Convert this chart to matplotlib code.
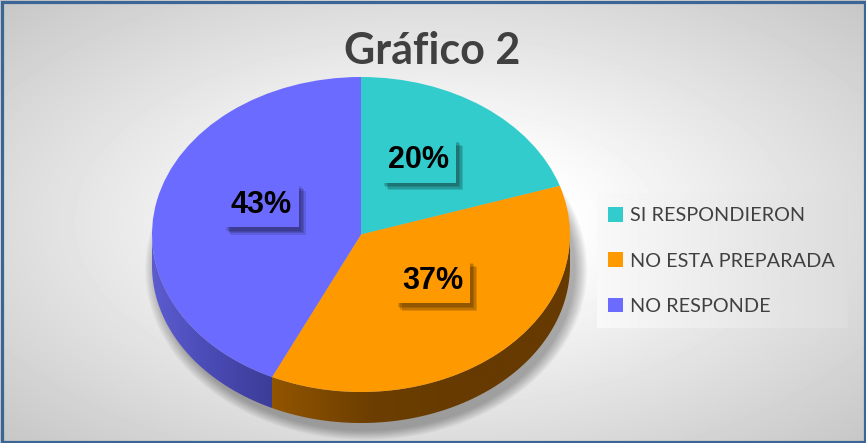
import numpy as np
import matplotlib
matplotlib.use('Agg')
import matplotlib.pyplot as plt
from matplotlib.patches import Rectangle, Ellipse, Polygon
from matplotlib.colors import LinearSegmentedColormap
import matplotlib.patheffects as pe

# ---------------- data ----------------
categories = ['SI RESPONDIERON', 'NO ESTA PREPARADA', 'NO RESPONDE']
values = [20, 37, 43]
title = 'Gráfico 2'

# ---------------- style ----------------
colors = ['#33CCCC', '#FF9900', '#6B6BFF']
side_stops = [['#1f8a8a', '#157070'],
              ['#925500', '#6c3e00', '#663a00', '#663a00'],
              ['#5c5cd0', '#4a4ab4', '#3c3c98']]
label_pos = [(0.275, 0.470), (0.342, -0.298), (-0.478, 0.187)]  # label centres (pie units)

W, H = 866, 443
fig = plt.figure(figsize=(W / 100, H / 100), dpi=100)

# background axes in pixel coordinates
bg = fig.add_axes([0, 0, 1, 1])
bg.axis('off')
yy, xx = np.mgrid[0:H, 0:W]
r = np.sqrt(((xx - 433) / 433) ** 2 + ((yy - 221) / 221) ** 2)
v = 1 - 0.22 * np.clip((r - 0.3) / 1.1, 0, 1)
bg.imshow(v, cmap='gray', vmin=0, vmax=1, extent=(0, W, H, 0), aspect='auto',
          interpolation='bilinear', zorder=0)
# legend background
lg = np.tile(np.linspace(0.975, 0.865, 200), (10, 1))
bg.imshow(lg, cmap='gray', vmin=0, vmax=1, extent=(597, 848, 328, 193), aspect='auto',
          interpolation='bilinear', zorder=1)
bg.add_patch(Rectangle((1.5, 1.5), W - 3, H - 3, fill=False, ec='#3a6594', lw=2.3, zorder=10))
bg.set_xlim(0, W)
bg.set_ylim(H, 0)

# pie axes: unit circle mapped to the ellipse of the top face
cx, cy, a, b = 361, 234.5, 209, 157.5
x0px, x1px, y0px, y1px = 110, 610, 40, 443
ax = fig.add_axes([x0px / W, 1 - y1px / H, (x1px - x0px) / W, (y1px - y0px) / H])
ax.patch.set_alpha(0)
depth = 31 / b

# soft shadow (below / right of the pie)
for i in range(14):
    s = 1 + i * 0.0045
    ax.add_patch(Ellipse((0.025, -0.22), 2.0 * s, 2.05 * s, color='black',
                         alpha=0.022, lw=0, zorder=1))

wedges, texts, autotexts = ax.pie(
    values, colors=colors, startangle=90, counterclock=False, radius=1,
    autopct='%1.0f%%', wedgeprops=dict(linewidth=0, zorder=4),
    textprops=dict(zorder=6))

# side (depth) of the visible lower half
for w, stops in zip(wedges, side_stops):
    t1, t2 = w.theta1, w.theta2
    for k in (-1, 0, 1):
        lo = max(t1, 180 + 360 * k)
        hi = min(t2, 360 + 360 * k)
        if hi <= lo:
            continue
        th = np.radians(np.linspace(lo, hi, 200))
        xs = np.cos(th)
        ys = np.sin(th)
        pts = np.vstack([np.column_stack([xs, ys]),
                         np.column_stack([xs[::-1], ys[::-1] - depth])])
        poly = Polygon(pts, closed=True, fc='none', ec='none', zorder=2)
        ax.add_patch(poly)
        cmap = LinearSegmentedColormap.from_list('side', stops)
        grad = np.tile(np.linspace(0, 1, 256), (4, 1))
        im = ax.imshow(grad, cmap=cmap, extent=(xs.min(), xs.max(), ys.min() - depth, ys.max()),
                       aspect='auto', interpolation='bilinear', zorder=2)
        im.set_clip_path(poly)

# data labels
shadow = [pe.SimplePatchShadow(offset=(o, -o - 0.5), shadow_rgbFace='black', alpha=0.13)
          for o in (5, 4, 3, 2)]
for t, (px, py), c in zip(autotexts, label_pos, colors):
    t.set_position((px, py))
    t.set_ha('center')
    t.set_va('center')
    t.set_fontsize(22)
    t.set_fontweight('bold')
    t.set_family('Liberation Sans')
    t.set_color('black')
    t.set_bbox(dict(boxstyle='square,pad=0.23', fc=c, ec='none'))
    t.get_bbox_patch().set_path_effects(shadow + [pe.Normal()])

ax.set_aspect('auto')
ax.set_xlim((x0px - cx) / a, (x1px - cx) / a)
ax.set_ylim((cy - y1px) / b, (cy - y0px) / b)
ax.axis('off')

# title
fig.text(432.5 / W, 1 - 64 / H, title, ha='center', va='baseline', fontsize=31,
         fontweight='bold', color='#404040', family='Lato')

# legend
leg = fig.legend(wedges, categories, loc='center left', bbox_to_anchor=(597 / W, 1 - 261 / H),
                 frameon=False, prop=dict(family='Lato', size=14.3),
                 handlelength=0.75, handleheight=0.75, handletextpad=0.35,
                 labelspacing=1.42, borderpad=0.55, borderaxespad=0)
for t in leg.get_texts():
    t.set_color('#404040')

fig.savefig('out.png', dpi=100)
